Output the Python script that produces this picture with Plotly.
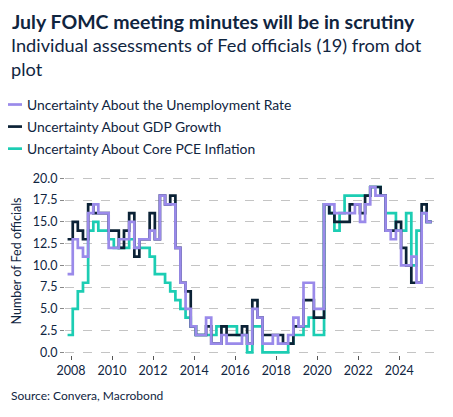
import pandas as pd
import plotly.graph_objects as go

# quarterly readings of the dot plot uncertainty counts (number of officials)
dates = pd.date_range("2007-11-01", periods=72, freq="3MS")

unemployment = [9, 13, 12, 11, 16, 17, 16, 16, 12, 12, 13, 13, 15, 12, 13, 13,
                14, 13, 18, 17, 17, 12, 8, 5, 3, 2, 2, 4, 1, 1, 2, 1,
                1, 1, 2, 1, 5, 4, 1, 1, 2, 1, 1, 2, 4, 3, 8, 8,
                5, 5, 17, 17, 16, 16, 16, 16, 17, 15, 17, 19, 18, 18, 14, 13,
                14, 10, 10, 11, 8, 16, 15, 15]
gdp_growth = [13, 15, 14, 13, 17, 16, 16, 16, 14, 14, 12, 14, 16, 11, 13, 13,
              16, 13, 18, 17, 18, 12, 8, 7, 3, 2, 2, 3, 1, 1, 3, 2,
              2, 2, 3, 1, 6, 4, 2, 2, 2, 2, 1, 1, 3, 3, 6, 6,
              4, 4, 17, 16, 15, 15, 15, 17, 17, 16, 18, 19, 19, 18, 14, 14,
              15, 12, 10, 8, 8, 17, 15, 15]
core_pce = [2, 5, 7, 8, 14, 15, 14, 14, 13, 12, 12, 12, 13, 12, 12, 12,
            11, 9, 9, 8, 7, 6, 5, 4, 3, 2, 2, 2, 2, 3, 3, 3,
            3, 2, 2, 0, 3, 3, 0, 0, 0, 0, 0, 1, 2, 2, 3, 4,
            2, 2, 17, 16, 14, 16, 18, 18, 18, 18, 18, 19, 19, 18, 16, 16,
            14, 14, 16, 10, 14, 16, 15, 15]

# legend order, with the draw order (zorder) putting the purple line on top
series = [
    ("Uncertainty About the Unemployment Rate", unemployment, "#9a8aea", 3),
    ("Uncertainty About GDP Growth", gdp_growth, "#0b2236", 2),
    ("Uncertainty About Core PCE Inflation", core_pce, "#1ccdb3", 1),
]

text_color = "#10253f"
font_family = "Lato, 'Open Sans', sans-serif"

fig = go.Figure()
for name, values, color, z in series:
    fig.add_trace(go.Scatter(x=dates, y=values, mode="lines", name=name, legendgroup=name,
                             zorder=z, line=dict(color=color, width=2.7, shape="hv")))

# the page body adds an 8px margin, so the figure is 16px smaller than the window
fig.update_layout(
    width=437,
    height=401,
    margin=dict(l=57, r=8, t=158.7, b=53.7, autoexpand=False),
    paper_bgcolor="white",
    plot_bgcolor="white",
    font=dict(family=font_family, size=12, color=text_color),
    showlegend=True,
    legend=dict(
        x=-0.2097, y=1.415, xanchor="left", yanchor="top",
        traceorder="grouped", tracegroupgap=1,
        bgcolor="rgba(0,0,0,0)", font=dict(size=13.9),
    ),
    xaxis=dict(
        range=["2007-09-16", "2025-11-01"],
        dtick="M24", tick0="2008-01-01", tickformat="%Y",
        showgrid=False, showline=False, zeroline=False,
        ticks="outside", ticklen=4, tickcolor="#555555",
        tickfont=dict(size=12.5),
    ),
    yaxis=dict(
        range=[-0.3, 21.3],
        tickvals=[0, 2.5, 5, 7.5, 10, 12.5, 15, 17.5, 20], tickformat=".1f",
        showgrid=True, gridcolor="#c4c4c4", griddash="dash", gridwidth=1,
        zeroline=False, showline=True, linecolor="#9a9a9a",
        ticks="outside", ticklen=4, tickcolor="#888888",
        title=dict(text="Number of Fed officials", standoff=8, font=dict(size=12.5)),
        tickfont=dict(size=12.5),
    ),
    annotations=[
        dict(text="<b>July FOMC meeting minutes will be in scrutiny</b>",
             xref="paper", yref="paper", x=-0.149, y=1.7726, xanchor="left", yanchor="middle",
             showarrow=False, font=dict(size=19.5, color=text_color)),
        dict(text="Individual assessments of Fed officials (19) from dot<br>plot",
             xref="paper", yref="paper", x=-0.15, y=1.587, xanchor="left", yanchor="middle",
             showarrow=False, align="left", font=dict(size=18.2, color=text_color)),
        dict(text="Source: Convera, Macrobond",
             xref="paper", yref="paper", x=-0.15, y=-0.216, xanchor="left", yanchor="middle",
             showarrow=False, font=dict(size=12, color=text_color)),
    ],
)

fig.write_html("out.html")
